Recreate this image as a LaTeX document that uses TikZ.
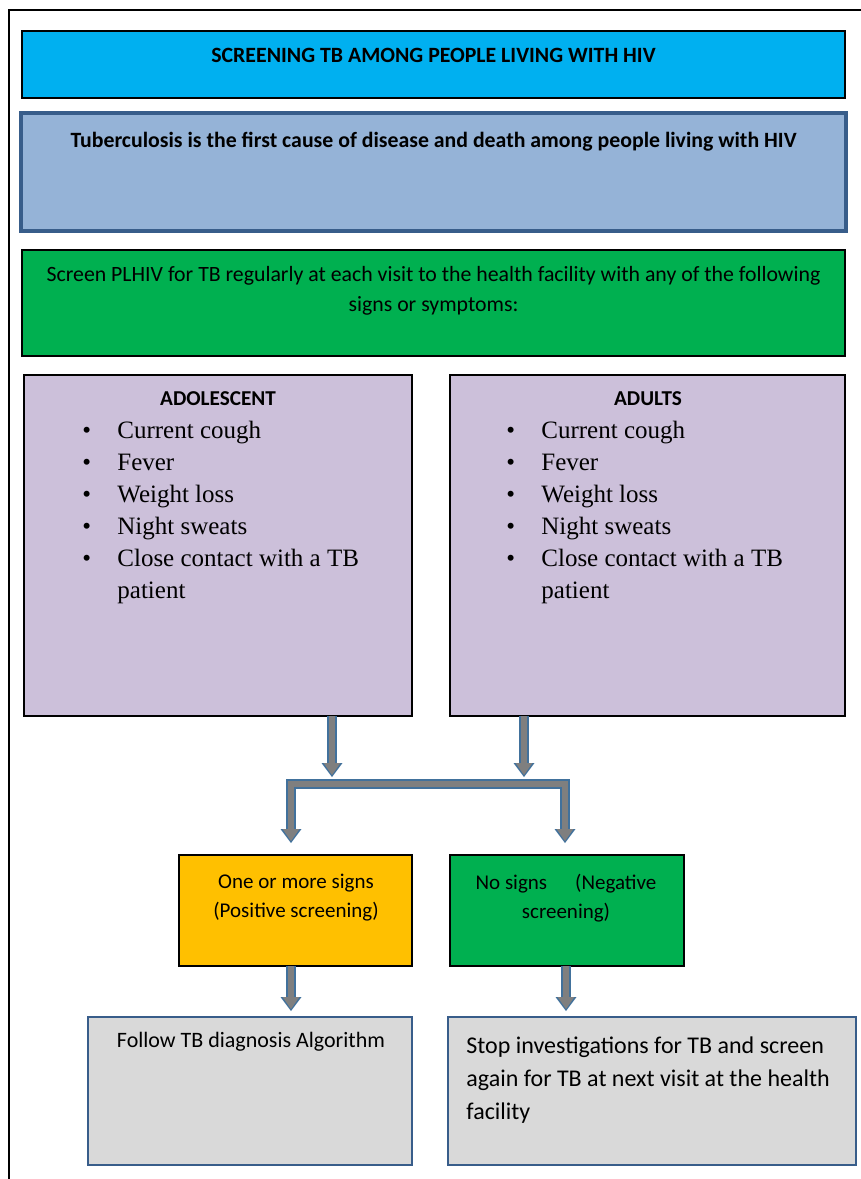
\documentclass[tikz,border=0pt]{standalone}
\usepackage{fontspec}
\setmainfont{Carlito}
\newfontfamily\listfont{Liberation Serif}
\usetikzlibrary{arrows.meta,fit}
\definecolor{titlecyan}{HTML}{00B0F0}
\definecolor{infoblue}{HTML}{95B3D7}
\definecolor{infoborder}{HTML}{385D8A}
\definecolor{screengreen}{HTML}{00B050}
\definecolor{lilac}{HTML}{CCC0DA}
\definecolor{amber}{HTML}{FFC000}
\definecolor{boxgray}{HTML}{D9D9D9}
\definecolor{arrowgray}{HTML}{7F7F7F}
\definecolor{arrowedge}{HTML}{41719C}
\tikzset{
  EdgeTip/.tip={Triangle[length=7pt,width=10.5pt,line width=0pt]},
  CoreTip/.tip={Triangle[length=6pt,width=8.4pt,line width=0pt]},
  area/.style={inner sep=0pt, outer sep=0pt, draw=black, line width=1pt},
  softarea/.style={area, draw=infoborder, line width=0.8pt, fill=boxgray},
  edgelayer/.style={draw=arrowedge, line width=5pt, line join=miter},
  corelayer/.style={draw=arrowgray, line width=3.4pt, line join=miter},
  headtxt/.style={inner sep=0pt, font=\bfseries\fontsize{10.9}{13}\selectfont},
  bodytxt/.style={inner sep=0pt, align=center, font=\fontsize{10.5}{14.5}\selectfont},
  listtxt/.style={inner sep=0pt, align=left, anchor=north west, font=\listfont\fontsize{12.5}{16}\selectfont},
}
\newcommand\bul{\makebox[17.5pt][l]{\textbullet}}
\begin{document}
\begin{tikzpicture}[x=0.5pt,y=-0.5pt]
\useasboundingbox (0,0) rectangle (861,1179);
% outer frame
\coordinate (frameTR) at (861,10);
\coordinate (frameTL) at (9,10);
\coordinate (frameBL) at (9,1179);
\draw[line width=1pt] (frameTR) -- (frameTL) -- (frameBL);

% boxes
\node[area, fill=titlecyan, fit={(22,31) (845,98)}] (title) {};
\node[area, fill=infoblue, draw=infoborder, line width=1.6pt, fit={(21,113) (846,231)}] (info) {};
\node[area, fill=screengreen, fit={(22,250) (845,356)}] (screen) {};
\node[area, fill=lilac, fit={(24,375) (412,716)}] (adol) {};
\node[area, fill=lilac, fit={(450,375) (845,716)}] (adult) {};
\node[area, fill=amber, fit={(179,855) (412,966)}] (pos) {};
\node[area, fill=screengreen, fit={(450,855) (684,966)}] (neg) {};
\node[softarea, fit={(88,1017) (412,1165)}] (follow) {};
\node[softarea, fit={(448,1017) (856,1165)}] (stop) {};

% texts
\node[headtxt] (titletxt) at (433.5,55) {SCREENING TB AMONG PEOPLE LIVING WITH HIV};
\node[headtxt] (infotxt) at (433.5,142) {Tuberculosis is the first cause of disease and death among people living with HIV};
\node[bodytxt, font=\fontsize{10.9}{15}\selectfont] (screentxt) at (433.5,291) {Screen PLHIV for TB regularly at each visit to the health facility with any of the following\\signs or symptoms:};
\node[headtxt, font=\bfseries\fontsize{10.6}{13}\selectfont] (adolhead) at (218,399) {ADOLESCENT};
\node[headtxt, font=\bfseries\fontsize{10.6}{13}\selectfont] (adulthead) at (648,399) {ADULTS};
\node[listtxt] (adollist) at (82,421) {\bul Current cough\\\bul Fever\\\bul Weight loss\\\bul Night sweats\\\bul Close contact with a TB\\\makebox[17.5pt]{}patient};
\node[listtxt] (adultlist) at (506,421) {\bul Current cough\\\bul Fever\\\bul Weight loss\\\bul Night sweats\\\bul Close contact with a TB\\\makebox[17.5pt]{}patient};
\node[bodytxt] (postxt) at (296,898) {One or more signs\\(Positive screening)};
\node[bodytxt] (negtxt) at (566,898) {No signs\hspace{14pt}(Negative\\screening)};
\node[bodytxt, font=\fontsize{11}{14}\selectfont] (followtxt) at (251,1042) {Follow TB diagnosis Algorithm};
\node[inner sep=0pt, align=left, anchor=north west, font=\fontsize{12}{16.5}\selectfont] (stoptxt) at (466,1036) {Stop investigations for TB and screen\\again for TB at next visit at the health\\facility};

% connectors
\coordinate (adolend) at (332,777);
\coordinate (adultend) at (524,777);
\coordinate (brL) at (291,843);
\coordinate (brLtop) at (291,784);
\coordinate (brRtop) at (565,784);
\coordinate (brR) at (565,843);
\coordinate (posend) at (291,1011);
\coordinate (negend) at (566,1011);

\draw[edgelayer, -EdgeTip] (adolend |- adol.south) -- (adolend);
\draw[corelayer, -CoreTip, shorten >=1pt] (adolend |- adol.south) -- (adolend);
\draw[edgelayer, -EdgeTip] (adultend |- adult.south) -- (adultend);
\draw[corelayer, -CoreTip, shorten >=1pt] (adultend |- adult.south) -- (adultend);

\draw[edgelayer, EdgeTip-EdgeTip] (brL) -- (brLtop) -- (brRtop) -- (brR);
\draw[corelayer, CoreTip-CoreTip, shorten >=1pt, shorten <=1pt] (brL) -- (brLtop) -- (brRtop) -- (brR);

\draw[edgelayer, -EdgeTip] (posend |- pos.south) -- (posend);
\draw[corelayer, -CoreTip, shorten >=1pt] (posend |- pos.south) -- (posend);
\draw[edgelayer, -EdgeTip] (negend |- neg.south) -- (negend);
\draw[corelayer, -CoreTip, shorten >=1pt] (negend |- neg.south) -- (negend);
\end{tikzpicture}
\end{document}
